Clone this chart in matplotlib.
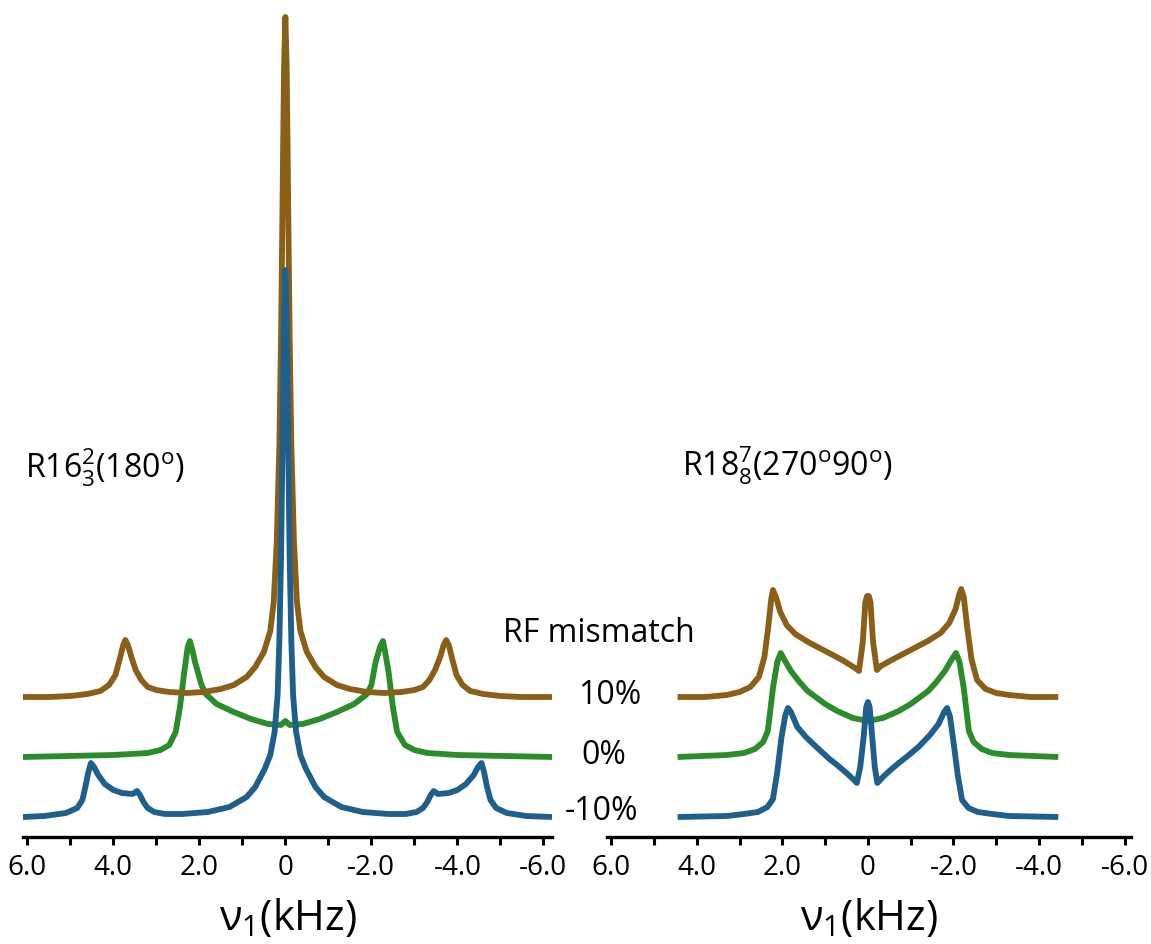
import matplotlib
matplotlib.use("Agg")
import matplotlib.pyplot as plt
from matplotlib.ticker import MultipleLocator, FuncFormatter

plt.rcParams['font.family'] = ['Open Sans', 'DejaVu Sans']
plt.rcParams['mathtext.default'] = 'regular'

# Left panel: R16_3^2(180) spectra, x in kHz, intensity above each trace's baseline
l_brown_x = [6.1, 5.5, 5.0, 4.6, 4.3, 4.1, 3.95, 3.85, 3.77, 3.72, 3.66, 3.58, 3.48, 3.35,
             3.2, 3.0, 2.7, 2.3, 1.9, 1.5, 1.2, 0.9, 0.7, 0.5, 0.35, 0.27, 0.2, 0.14, 0.1,
             0.07, 0.05, 0.03, 0.0, -0.03, -0.05, -0.07, -0.1, -0.14, -0.2, -0.27, -0.35,
             -0.5, -0.7, -0.9, -1.2, -1.5, -1.9, -2.3, -2.7, -3.0, -3.2, -3.35, -3.48,
             -3.6, -3.68, -3.74, -3.8, -3.88, -3.98, -4.12, -4.3, -4.6, -5.0, -5.5, -6.2]
l_brown_y = [0.0, 0.0, 0.01, 0.03, 0.06, 0.12, 0.22, 0.38, 0.52, 0.57, 0.52, 0.4, 0.27, 0.17,
             0.1, 0.07, 0.05, 0.04, 0.05, 0.08, 0.12, 0.2, 0.3, 0.45, 0.66, 0.95, 1.55, 2.5,
             3.6, 4.75, 5.55, 6.3, 6.8, 6.3, 5.55, 4.75, 3.6, 2.5, 1.55, 0.95, 0.66,
             0.45, 0.3, 0.2, 0.12, 0.08, 0.05, 0.04, 0.05, 0.07, 0.1, 0.17, 0.27,
             0.4, 0.52, 0.57, 0.52, 0.38, 0.22, 0.12, 0.06, 0.03, 0.01, 0.0, 0.0]

l_green_x = [6.1, 4.0, 3.2, 2.9, 2.7, 2.55, 2.45, 2.35, 2.27, 2.22, 2.15, 2.1, 1.95, 1.85,
             1.6, 1.2, 0.8, 0.4, 0.1, 0.0, -0.1, -0.4, -0.8, -1.2, -1.6, -1.9, -2.0,
             -2.1, -2.2, -2.27, -2.32, -2.4, -2.5, -2.6, -2.78, -3.0, -3.3, -4.0, -6.2]
l_green_y = [0.0, 0.02, 0.04, 0.07, 0.12, 0.25, 0.5, 0.85, 1.1, 1.16, 1.05, 0.95, 0.72, 0.63,
             0.53, 0.45, 0.38, 0.33, 0.32, 0.36, 0.32, 0.33, 0.38, 0.45, 0.53, 0.63, 0.72,
             0.95, 1.1, 1.16, 1.05, 0.85, 0.5, 0.25, 0.12, 0.07, 0.04, 0.02, 0.0]

l_blue_x = [6.1, 5.6, 5.1, 4.84, 4.72, 4.65, 4.58, 4.52, 4.45, 4.35, 4.2, 4.0, 3.8, 3.55,
            3.45, 3.38, 3.3, 3.2, 3.05, 2.8, 2.4, 1.8, 1.3, 0.9, 0.7, 0.48, 0.35, 0.25,
            0.18, 0.14, 0.1, 0.07, 0.05, 0.03, 0.0, -0.03, -0.05, -0.07, -0.1, -0.14,
            -0.18, -0.25, -0.35, -0.48, -0.7, -0.9, -1.3, -1.8, -2.4, -2.8, -3.05, -3.2,
            -3.3, -3.38, -3.45, -3.55, -3.8, -4.0, -4.2, -4.38, -4.48, -4.56, -4.62,
            -4.69, -4.77, -4.9, -5.15, -5.6, -6.2]
l_blue_y = [0.0, 0.01, 0.04, 0.09, 0.17, 0.3, 0.45, 0.54, 0.5, 0.42, 0.33, 0.27, 0.24, 0.23,
            0.26, 0.22, 0.15, 0.09, 0.05, 0.03, 0.03, 0.05, 0.1, 0.2, 0.3, 0.48, 0.62, 0.85,
            1.22, 1.75, 2.6, 3.6, 4.3, 5.0, 5.47, 5.0, 4.3, 3.6, 2.6, 1.75,
            1.22, 0.85, 0.62, 0.48, 0.3, 0.2, 0.1, 0.05, 0.03, 0.03, 0.05, 0.09,
            0.15, 0.22, 0.26, 0.23, 0.24, 0.27, 0.33, 0.42, 0.5, 0.54, 0.45,
            0.3, 0.17, 0.09, 0.04, 0.01, 0.0]

# Right panel: R18_8^7(270 90) spectra
r_brown_x = [4.45, 3.8, 3.3, 3.0, 2.75, 2.55, 2.42, 2.33, 2.26, 2.22, 2.15, 2.05, 1.9, 1.7,
             1.4, 1.0, 0.6, 0.3, 0.21, 0.12, 0.06, 0.02, -0.02, -0.06, -0.12, -0.21, -0.3,
             -0.6, -1.0, -1.4, -1.7, -1.9, -2.05, -2.13, -2.18, -2.24, -2.32, -2.42,
             -2.55, -2.75, -3.0, -3.3, -3.8, -4.45]
r_brown_y = [0.0, 0.0, 0.02, 0.05, 0.1, 0.2, 0.4, 0.7, 0.98, 1.07, 1.0, 0.85, 0.72, 0.63,
             0.55, 0.46, 0.37, 0.29, 0.26, 0.55, 0.95, 1.01, 1.01, 0.95, 0.55, 0.27, 0.31,
             0.38, 0.47, 0.56, 0.64, 0.74, 0.88, 1.02, 1.08, 1.0, 0.7, 0.38,
             0.17, 0.08, 0.04, 0.02, 0.0, 0.0]

r_green_x = [4.45, 3.3, 2.9, 2.64, 2.45, 2.34, 2.22, 2.12, 2.04, 1.95, 1.8, 1.6, 1.41, 1.0,
             0.72, 0.35, 0.0, -0.35, -0.72, -1.0, -1.41, -1.6, -1.8, -1.95, -2.06, -2.14,
             -2.24, -2.36, -2.47, -2.66, -2.9, -3.3, -4.45]
r_green_y = [0.0, 0.02, 0.04, 0.08, 0.15, 0.26, 0.69, 0.95, 1.04, 0.97, 0.86, 0.75, 0.66, 0.53,
             0.46, 0.39, 0.36, 0.39, 0.46, 0.53, 0.66, 0.75, 0.86, 0.97, 1.04, 0.95,
             0.69, 0.26, 0.15, 0.08, 0.04, 0.02, 0.0]

r_blue_x = [4.45, 3.3, 2.9, 2.57, 2.35, 2.22, 2.12, 2.02, 1.93, 1.87, 1.8, 1.65, 1.45, 1.18,
            0.9, 0.72, 0.5, 0.35, 0.26, 0.18, 0.1, 0.04, 0.0, -0.04, -0.1, -0.16, -0.22,
            -0.35, -0.5, -0.72, -0.9, -1.18, -1.45, -1.65, -1.78, -1.85, -1.92, -2.0,
            -2.1, -2.2, -2.35, -2.57, -2.9, -3.3, -4.45]
r_blue_y = [0.0, 0.01, 0.03, 0.05, 0.1, 0.18, 0.45, 0.8, 1.02, 1.09, 1.05, 0.9, 0.8, 0.69,
            0.58, 0.52, 0.44, 0.38, 0.34, 0.5, 0.8, 1.1, 1.15, 1.1, 0.8, 0.5, 0.34,
            0.4, 0.46, 0.54, 0.6, 0.7, 0.82, 0.93, 1.05, 1.09, 1.0, 0.75,
            0.42, 0.17, 0.09, 0.05, 0.03, 0.01, 0.0]

# vertical offsets of the stacked traces (blue -10%, green 0%, brown 10%)
offsets = {'blue': 0.0, 'green': 0.6, 'brown': 1.2}
colors = {'brown': '#8a5f17', 'green': '#2a8c2a', 'blue': '#1f5f8c'}
pct_labels = ['10%', '0%', '-10%']


def tick_fmt(v, pos):
    if abs(v) < 1e-9:
        return '0'
    return f'{v:.1f}'


def style_axis(ax, xlim):
    ax.set_xlim(*xlim)
    ax.set_ylim(-0.2, 8.17)
    for side in ['top', 'left', 'right']:
        ax.spines[side].set_visible(False)
    ax.spines['bottom'].set_linewidth(2.4)
    ax.set_yticks([])
    ax.xaxis.set_major_locator(MultipleLocator(2.0))
    ax.xaxis.set_minor_locator(MultipleLocator(1.0))
    ax.xaxis.set_major_formatter(FuncFormatter(tick_fmt))
    ax.tick_params(axis='x', which='both', direction='out', length=6, width=2.2,
                   labelsize=20, pad=6, color='black')
    ax.set_xlabel('ν$_1$(kHz)', fontsize=30, labelpad=11)
    ax.patch.set_alpha(0)


fig = plt.figure(figsize=(11.51, 9.44), dpi=100)
W, H = 1151, 944
ax1 = fig.add_axes([23 / W, 1 - 837 / H, 529 / W, 837 / H])
ax2 = fig.add_axes([607 / W, 1 - 837 / H, 524 / W, 837 / H])

lw = 4.2
ax1.plot(l_green_x, [v + offsets['green'] for v in l_green_y], color=colors['green'], lw=lw, zorder=1, solid_capstyle='butt')
ax1.plot(l_brown_x, [v + offsets['brown'] for v in l_brown_y], color=colors['brown'], lw=lw, zorder=2, solid_capstyle='butt')
ax1.plot(l_blue_x, [v + offsets['blue'] for v in l_blue_y], color=colors['blue'], lw=lw, zorder=3, solid_capstyle='butt')

ax2.plot(r_brown_x, [v + offsets['brown'] for v in r_brown_y], color=colors['brown'], lw=lw, zorder=1, solid_capstyle='butt')
ax2.plot(r_green_x, [v + offsets['green'] for v in r_green_y], color=colors['green'], lw=lw, zorder=2, solid_capstyle='butt')
ax2.plot(r_blue_x, [v + offsets['blue'] for v in r_blue_y], color=colors['blue'], lw=lw, zorder=3, solid_capstyle='butt')

style_axis(ax1, (6.1, -6.2))
style_axis(ax2, (6.1, -6.15))

fig.text(25 / W, 1 - 468 / H, 'R16$_3^2$(180$^o$)', fontsize=23, va='center', ha='left')
fig.text(682 / W, 1 - 466 / H, 'R18$_8^7$(270$^o$90$^o$)', fontsize=23, va='center', ha='left')
fig.text(503 / W, 1 - 633 / H, 'RF mismatch', fontsize=23, va='center', ha='left')
for lab, xc, yc in zip(pct_labels, [610, 604, 602], [695, 755, 812]):
    fig.text(xc / W, 1 - yc / H, lab, fontsize=23, va='center', ha='center')

fig.savefig('out.png', dpi=100)
